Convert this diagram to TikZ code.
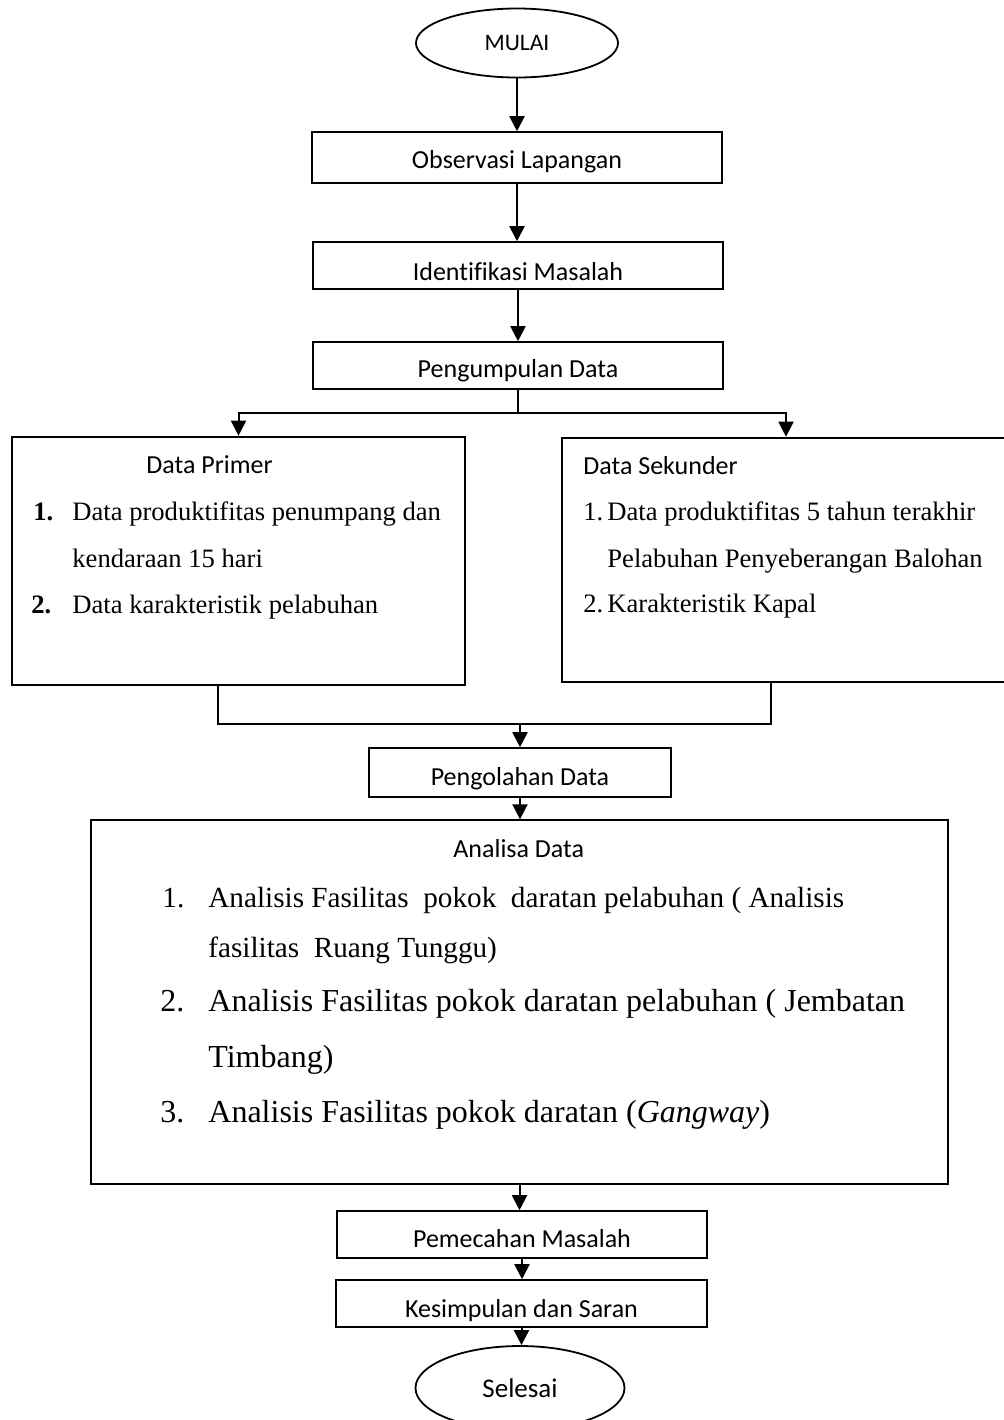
\documentclass[tikz,border=0pt]{standalone}
\usepackage{fontspec}
\setmainfont{Liberation Serif}
\newfontfamily\carlito[Ligatures=NoCommon]{Carlito}
\usetikzlibrary{arrows.meta,shapes.geometric}

\begin{document}
\begin{tikzpicture}[x=0.5pt,y=-0.5pt,
  box/.style={draw,line width=0.8pt,inner sep=0pt,font=\carlito\fontsize{13}{15}\selectfont},
  term/.style={draw,ellipse,line width=0.9pt,inner sep=0pt,font=\carlito\fontsize{13}{15}\selectfont},
  panel/.style={draw,line width=1.3pt,inner sep=0pt},
  head/.style={anchor=base west,inner sep=0pt,font=\carlito\fontsize{13}{15}\selectfont},
  item/.style={anchor=base west,inner sep=0pt,font=\fontsize{13.3}{16}\selectfont},
  arr/.style={line width=1pt,-{Triangle[width=7.5pt,length=7.5pt]}},
  wire/.style={line width=1pt}]
\useasboundingbox (0,0) rectangle (1003,1420);

% main chain
\node[term,minimum width=101pt,minimum height=34.5pt,font=\carlito\fontsize{11.8}{14}\selectfont] (mulai) at (517,43) {MULAI};
\node[box,minimum width=205pt,text height=18pt,text depth=7.5pt] (obs) at (517,157.5) {Observasi Lapangan};
\node[box,minimum width=205pt,text height=19pt,text depth=4.5pt] (idm) at (518,265.5) {Identifikasi Masalah};
\node[box,minimum width=205pt,text height=17.5pt,text depth=6pt] (kump) at (518,365.5) {Pengumpulan Data};

% data boxes
\node[panel,minimum width=226.5pt,minimum height=124pt] (prim) at (238.5,561) {};
\node[head] (primh) at (146,473) {Data Primer};
\node[item] (prim1n) at (33,520) {\textbf{1.}};
\node[item] (prim1) at (72,520) {Data produktifitas penumpang dan};
\node[item] (prim1b) at (72,567) {kendaraan 15 hari};
\node[item] (prim2n) at (31,613) {\textbf{2.}};
\node[item] (prim2) at (72,613) {Data karakteristik pelabuhan};

\node[panel,minimum width=224pt,minimum height=122pt] (sek) at (786,560) {};
\node[head] (sekh) at (583,474) {Data Sekunder};
\node[item] (sek1n) at (583,520) {1.};
\node[item] (sek1) at (607,520) {Data produktifitas 5 tahun terakhir};
\node[item] (sek1b) at (607,567) {Pelabuhan Penyeberangan Balohan};
\node[item] (sek2n) at (583,612) {2.};
\node[item] (sek2) at (607,612) {Karakteristik Kapal};

\node[box,minimum width=151pt,text height=18.5pt,text depth=6pt] (olah) at (520,772.5) {Pengolahan Data};

% analisa
\node[draw,line width=0.7pt,inner sep=0pt,minimum width=428.5pt,minimum height=182pt] (anl) at (519.5,1002) {};
\node[head] (anlh) at (453,857) {Analisa Data};
\node[item,font=\fontsize{14.6}{17}\selectfont] (anl1n) at (162,907) {1.};
\node[item,font=\fontsize{14.6}{17}\selectfont] (anl1) at (208,907) {Analisis Fasilitas\ \ pokok\ \ daratan pelabuhan ( Analisis};
\node[item,font=\fontsize{14.6}{17}\selectfont] (anl1b) at (208,957) {fasilitas\ \ Ruang Tunggu)};
\node[item,font=\fontsize{16}{19}\selectfont] (anl2n) at (160,1011) {2.};
\node[item,font=\fontsize{16}{19}\selectfont] (anl2) at (208,1011) {Analisis Fasilitas pokok daratan pelabuhan ( Jembatan};
\node[item,font=\fontsize{16}{19}\selectfont] (anl2b) at (208,1067) {Timbang)};
\node[item,font=\fontsize{16}{19}\selectfont] (anl3n) at (160,1122) {3.};
\node[item,font=\fontsize{16}{19}\selectfont] (anl3) at (208,1122) {Analisis Fasilitas pokok daratan (\textit{Gangway})};

\node[box,minimum width=185pt,text height=18pt,text depth=5.5pt] (pecah) at (522,1234.5) {Pemecahan Masalah};
\node[box,minimum width=185.5pt,text height=18.5pt,text depth=5pt] (simpul) at (521.5,1303.5) {Kesimpulan dan Saran};
\node[term,minimum width=104.5pt,minimum height=42pt,font=\carlito\fontsize{13.5}{16}\selectfont] (selesai) at (520,1388) {Selesai};

% connectors
\foreach \a/\b in {mulai/obs,obs/idm,idm/kump,olah/anl,anl/pecah,pecah/simpul,simpul/selesai}
  \draw[arr] (\a.south) -- (\a.south |- \b.north);

\coordinate (split) at (518,413);
\draw[wire] (kump.south) -- (split);
\draw[arr] (split) -| (prim.north);
\draw[arr] (split) -| (sek.north);

\coordinate (pj) at (218,724);
\coordinate (sj) at (771,724);
\coordinate (join) at (520,724);
\draw[wire] (pj |- prim.south) -- (pj) -- (sj) -- (sj |- sek.south);
\draw[arr] (join) -- (join |- olah.north);
\end{tikzpicture}
\end{document}
